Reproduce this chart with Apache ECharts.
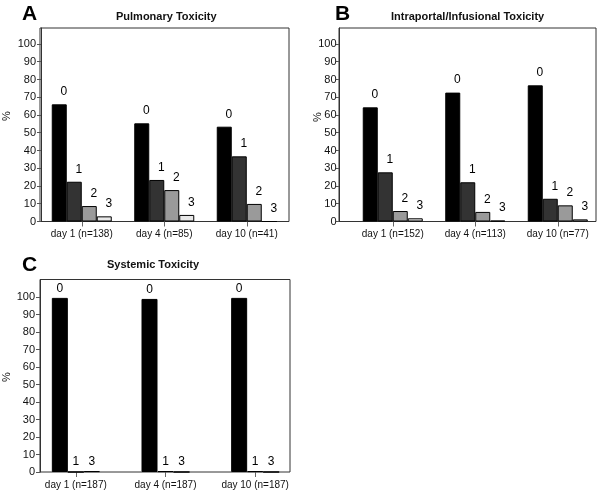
<!DOCTYPE html>
<html>
<head>
<meta charset="utf-8">
<script src="https://cdn.jsdelivr.net/npm/echarts@6/dist/echarts.min.js"></script>
<style>html,body{margin:0;padding:0;background:#fff;}#c{width:600px;height:492px;}</style>
</head>
<body>
<div id="c"></div>
<script>
// ---- data ----
const gradeNamesAB = ['0', '1', '2', '3'];
const gradeNamesC = ['0', '1', '3'];
const categoriesA = ['day 1 (n=138)', 'day 4 (n=85)', 'day 10 (n=41)'];
const pulmonary0 = [66, 55.3, 53.4];
const pulmonary1 = [22.4, 23.4, 36.7];
const pulmonary2 = [8.7, 17.7, 9.9];
const pulmonary3 = [2.9, 3.7, 0];
const categoriesB = ['day 1 (n=152)', 'day 4 (n=113)', 'day 10 (n=77)'];
const intraportal0 = [64.3, 72.6, 76.7];
const intraportal1 = [27.7, 22.1, 12.8];
const intraportal2 = [5.9, 5.4, 9.1];
const intraportal3 = [1.8, 0.5, 1.2];
const categoriesC = ['day 1 (n=187)', 'day 4 (n=187)', 'day 10 (n=187)'];
const systemic0 = [99.5, 98.9, 99.5];
const systemic1 = [0, 0.5, 0.5];
const systemic3 = [0.5, 0, 0];
const yTicks = [0, 10, 20, 30, 40, 50, 60, 70, 80, 90, 100];
const titles = ['Pulmonary Toxicity', 'Intraportal/Infusional Toxicity', 'Systemic Toxicity'];
const panelLetters = ['A', 'B', 'C'];

// ---- styling ----
const FONT = 'Liberation Sans, Arial, Helvetica, sans-serif';
const gradeColors = {'0': '#000000', '1': '#333333', '2': '#9a9a9a', '3': '#e8e8e8'};

const panels = [
  {cats: categoriesA, names: gradeNamesAB, data: [pulmonary0, pulmonary1, pulmonary2, pulmonary3],
   data_grid: {left: 40.5, top: 28, width: 247.5, height: 193.5},
   frame: {left: 40, top: 28, width: 249, height: 193.5}, yMax: 109, yOffset: -0.5, barWidth: 15,
   labelOffset: [4.5, -1.5], tickLen: 4, labelMargin: 5},
  {cats: categoriesB, names: gradeNamesAB, data: [intraportal0, intraportal1, intraportal2, intraportal3],
   data_grid: {left: 351.5, top: 28, width: 247.5, height: 193.5},
   frame: {left: 339, top: 28, width: 257, height: 193.5}, yMax: 109, yOffset: 12.5, barWidth: 15,
   labelOffset: [4.5, -1.5], tickLen: 3, labelMargin: 2.5},
  {cats: categoriesC, names: gradeNamesC, data: [systemic0, systemic1, systemic3],
   data_grid: {left: 31, top: 279.5, width: 269, height: 192.5},
   frame: {left: 40, top: 279.5, width: 250, height: 192.5}, yMax: 110, yOffset: -9, barWidth: 16,
   labelOffset: [0, 1.5], tickLen: 4, labelMargin: 5}
];

const grid = [], xAxis = [], yAxis = [], series = [];
panels.forEach((p, i) => {
  const gi = grid.length;
  grid.push(Object.assign({show: false}, p.data_grid));
  grid.push(Object.assign({show: true, borderColor: '#333', borderWidth: 1, backgroundColor: 'transparent'}, p.frame));
  xAxis.push({
    gridIndex: gi, type: 'category', data: p.cats,
    axisLine: {show: false},
    axisTick: {show: true, alignWithLabel: true, length: 5, lineStyle: {color: '#666'}},
    axisLabel: {fontFamily: FONT, fontSize: 10, color: '#111', margin: 8, interval: 0}
  });
  xAxis.push({gridIndex: gi + 1, type: 'value', show: false, min: 0, max: 1});
  yAxis.push({
    gridIndex: gi, type: 'value', min: 0, max: p.yMax, interval: 10, offset: p.yOffset,
    axisLine: {show: true, lineStyle: {color: '#333'}},
    axisTick: {show: true, length: p.tickLen, customValues: yTicks, lineStyle: {color: '#555'}},
    axisLabel: {fontFamily: FONT, fontSize: 11, color: '#111', margin: p.labelMargin, customValues: yTicks},
    splitLine: {show: false}
  });
  yAxis.push({gridIndex: gi + 1, type: 'value', show: false, min: 0, max: 1});
  p.names.forEach((nm, k) => {
    series.push({
      type: 'bar', name: nm, xAxisIndex: gi, yAxisIndex: gi,
      data: p.data[k], barWidth: p.barWidth, barGap: '0%',
      itemStyle: {color: gradeColors[nm], borderColor: '#000', borderWidth: 1},
      label: {show: true, position: 'top', formatter: '{a}', fontFamily: FONT, fontSize: 12,
              color: '#000', distance: 5, offset: p.labelOffset},
      silent: true, animation: false
    });
  });
});

const graphic = [
  {type: 'text', left: 22, top: 4, style: {text: panelLetters[0], font: 'bold 21px ' + FONT, fill: '#000'}},
  {type: 'text', left: 335, top: 4, style: {text: panelLetters[1], font: 'bold 21px ' + FONT, fill: '#000'}},
  {type: 'text', left: 22, top: 255, style: {text: panelLetters[2], font: 'bold 21px ' + FONT, fill: '#000'}},
  {type: 'text', left: 116, top: 11, style: {text: titles[0], font: 'bold 11px ' + FONT, fill: '#111'}},
  {type: 'text', left: 391, top: 11, style: {text: titles[1], font: 'bold 11px ' + FONT, fill: '#111'}},
  {type: 'text', left: 107, top: 259, style: {text: titles[2], font: 'bold 11px ' + FONT, fill: '#111'}},
  {type: 'text', x: 7, y: 116, rotation: Math.PI / 2, style: {text: '%', font: '11px ' + FONT, fill: '#111', textAlign: 'center', textVerticalAlign: 'middle'}},
  {type: 'text', x: 318, y: 117, rotation: Math.PI / 2, style: {text: '%', font: '11px ' + FONT, fill: '#111', textAlign: 'center', textVerticalAlign: 'middle'}},
  {type: 'text', x: 7, y: 377, rotation: Math.PI / 2, style: {text: '%', font: '11px ' + FONT, fill: '#111', textAlign: 'center', textVerticalAlign: 'middle'}}
];

const chart = echarts.init(document.getElementById('c'), null, {renderer: 'canvas'});
chart.setOption({
  animation: false,
  backgroundColor: '#fff',
  grid, xAxis, yAxis, series, graphic
});
</script>
</body>
</html>
